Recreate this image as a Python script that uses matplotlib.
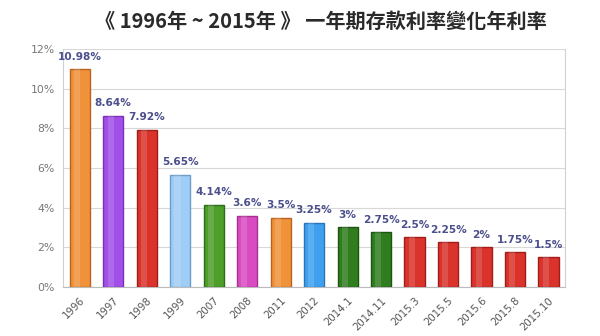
import matplotlib
matplotlib.use("Agg")
import matplotlib.pyplot as plt
import numpy as np

categories = ["1996", "1997", "1998", "1999", "2007", "2008", "2011", "2012",
              "2014.1", "2014.11", "2015.3", "2015.5", "2015.6", "2015.8", "2015.10"]
rates = [10.98, 8.64, 7.92, 5.65, 4.14, 3.6, 3.5, 3.25, 3.0, 2.75, 2.5, 2.25, 2.0, 1.75, 1.5]
value_labels = ["10.98%", "8.64%", "7.92%", "5.65%", "4.14%", "3.6%", "3.5%", "3.25%",
                "3%", "2.75%", "2.5%", "2.25%", "2%", "1.75%", "1.5%"]
bar_colors = ["#F0923A", "#A24FE8", "#D9332C", "#9FCDF5", "#4E9E2A", "#D94BC0",
              "#F0923A", "#3FA0EF", "#2F7D1F", "#2F7D1F", "#D9332C", "#D9332C",
              "#D9332C", "#D9332C", "#D9332C"]
edge_colors = ["#B86420", "#7A30B8", "#A01E1A", "#6C9CC8", "#2F6E16", "#A8308F",
               "#B86420", "#2A74B8", "#1C5510", "#1C5510", "#A01E1A", "#A01E1A",
               "#A01E1A", "#A01E1A", "#A01E1A"]
yticks = [0, 2, 4, 6, 8, 10, 12]
title = "《 1996年 ~ 2015年 》 一年期存款利率變化年利率"

fig = plt.figure(figsize=(6.0, 3.36), dpi=100)
ax = fig.add_axes([0.105, 0.146, 0.837, 0.708])

x = np.arange(len(categories))
ax.bar(x, rates, width=0.6, color=bar_colors, edgecolor=edge_colors,
       linewidth=1.0, zorder=3)
# subtle highlight for a glossy look
ax.bar(x - 0.08, rates, width=0.18, color="white", alpha=0.15, linewidth=0, zorder=4)

for xi, r, lab in zip(x, rates, value_labels):
    ax.text(xi, r + 0.38, lab, ha="center", va="bottom", fontsize=7.6,
            fontweight="bold", color="#4B4F8C", zorder=5)

ax.set_xlim(-0.5, len(categories) - 0.5)
ax.set_ylim(0, 12)
ax.set_yticks(yticks)
ax.set_yticklabels([f"{t}%" for t in yticks], fontsize=7.8, color="#777777")
ax.set_xticks(x)
ax.set_xticklabels(categories, rotation=45, ha="right", rotation_mode="anchor",
                   fontsize=7.4, color="#555555")
ax.tick_params(axis="both", length=0, pad=6)
ax.grid(axis="y", color="#D8D8D8", linewidth=0.8, zorder=0)
ax.spines["top"].set_visible(False)
ax.spines["left"].set_color("#D0D0D0")
ax.spines["right"].set_color("#D0D0D0")
ax.spines["bottom"].set_color("#BBBBBB")

fig.text(0.535, 0.935, title, ha="center", va="center", fontsize=14.5,
         fontweight="bold", color="#2A2A2A",
         family=["Noto Sans CJK TC", "DejaVu Sans"])

fig.savefig("out.png", dpi=100)
